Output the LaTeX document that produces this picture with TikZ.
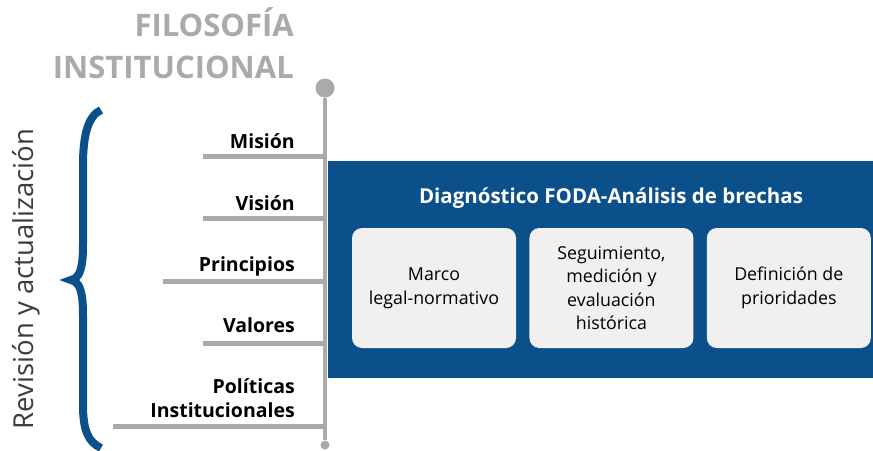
\documentclass[tikz,border=0pt]{standalone}
\usepackage{fontspec}
\setmainfont{Open Sans}
\usetikzlibrary{positioning}
\definecolor{azul}{RGB}{11,80,138}
\definecolor{gris}{RGB}{170,170,170}
\definecolor{grisclaro}{RGB}{240,240,240}
\definecolor{textogris}{RGB}{60,60,60}
\tikzset{
    %Define style for the grey spine and branches
    eje/.style={draw=gris, line width=4pt},
    rama/.style={draw=gris, line width=5pt},
    punta/.style={circle, fill=gris, inner sep=0pt},
    %Define style for text
    titulo/.style={
           text=gris,
           font=\fontsize{31}{40}\selectfont\bfseries,
           inner sep=0pt},
    etiqueta/.style={
           font=\fontsize{19.5}{24}\selectfont\bfseries,
           align=right,
           inner sep=0pt},
    %Define style for boxes
    caja/.style={
           rectangle,
           rounded corners=10pt,
           fill=grisclaro,
           minimum width=164pt,
           minimum height=120pt,
           font=\fontsize{17.8}{23.6}\selectfont,
           align=center,
           text centered},
    llave/.style={draw=azul, line width=8pt}
}

\begin{document}
\begin{tikzpicture}[x=1pt,y=-1pt,node distance=13pt]
\useasboundingbox (0,0) rectangle (873,450);

% bloque azul
\fill[azul] (328,161) rectangle (873,378);

% eje
\node[punta, minimum size=19pt] (arriba) at (325,88) {};
\node[punta, minimum size=9pt] (abajo) at (325,445) {};
\draw[eje] (arriba) -- (abajo);

\node[titulo, anchor=base east] (filosofia) at (294,36) {FILOSOFÍA};
\node[titulo, anchor=base east] (institucional) at (294,78) {INSTITUCIONAL};

% ramas
\coordinate (m0) at (203,156);
\coordinate (v0) at (203,218);
\coordinate (p0) at (163,281);
\coordinate (a0) at (203,343);
\coordinate (i0) at (113,426);
\draw[rama] (m0) -- (m0 -| arriba);
\draw[rama] (v0) -- (v0 -| arriba);
\draw[rama] (p0) -- (p0 -| arriba);
\draw[rama] (a0) -- (a0 -| arriba);
\draw[rama] (i0) -- (i0 -| arriba);

\node[etiqueta, anchor=base east] (mision) at (295,148) {Misión};
\node[etiqueta, anchor=base east] (vision) at (295,210) {Visión};
\node[etiqueta, anchor=base east] (principios) at (295,271) {Principios};
\node[etiqueta, anchor=base east] (valores) at (295,332) {Valores};
\node[etiqueta, anchor=south east] (politicas) at (295,418) {Políticas\\Institucionales};

% diagnostico
\node[text=white, font=\fontsize{20.5}{24}\selectfont\bfseries, anchor=base] (foda) at (611,203)
    {Diagnóstico FODA-Análisis de brechas};
\node[caja] (marco) at (434,288) {Marco\\legal-normativo};
\node[caja, right=of marco] (seguimiento) {Seguimiento,\\medición y\\evaluación\\histórica};
\node[caja, right=of seguimiento] (prioridades) {Definición de\\prioridades};

% llave
\draw[llave] (101,110) .. controls (88,116) and (83,135) .. (83,165) -- (83,245)
    .. controls (83,268) and (80,278) .. (71,280)
    .. controls (80,282) and (83,292) .. (83,315) -- (83,405)
    .. controls (83,430) and (88,442) .. (101,448);
\node[rotate=90, anchor=base, text=textogris, font=\fontsize{27.5}{30}\selectfont] (revision)
    at (33,279) {Revisión y actualización};
\end{tikzpicture}
\end{document}
